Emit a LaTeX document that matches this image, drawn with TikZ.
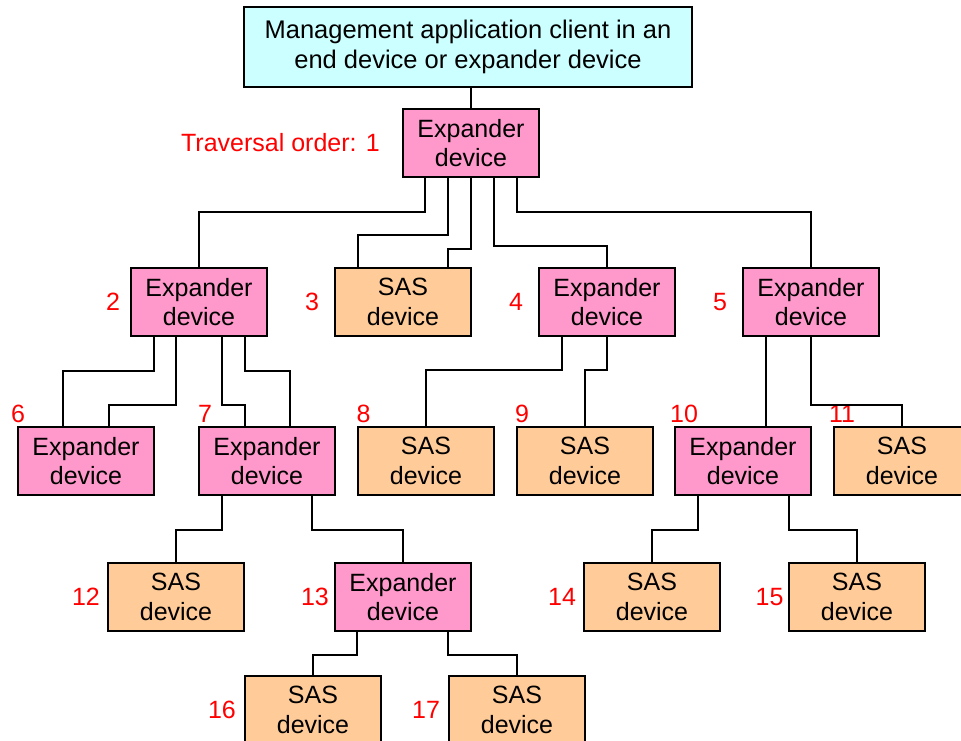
\documentclass[tikz,border=0pt]{standalone}
\usepackage{fontspec}
\setmainfont{Liberation Sans}
\usetikzlibrary{calc}
\definecolor{topcyan}{HTML}{CCFFFF}
\definecolor{exppink}{HTML}{FF99CC}
\definecolor{saspeach}{HTML}{FFCC99}
\begin{document}
\begin{tikzpicture}[x=1pt,y=-1pt,
  every node/.style={font=\fontsize{25}{29.5}\selectfont},
  box/.style={draw=black,line width=1.7pt,minimum width=136pt,minimum height=68pt,inner sep=0pt,align=center},
  expbox/.style={box,fill=exppink},
  sasbox/.style={box,fill=saspeach},
  topbox/.style={box,fill=topcyan,minimum width=448pt,minimum height=80pt,font=\fontsize{25.5}{30}\selectfont},
  lbl/.style={text=red,inner sep=0pt},
  conn/.style={draw=black,line width=1.5pt}]
\useasboundingbox (0,0) rectangle (961,740);
\clip (0,0) rectangle (961,740);

% nodes
\node[topbox] (top) at (468,47) {Management application client in an\\end device or expander device};
\node[expbox] (e1) at (471,143) {Expander\\device};
\node[expbox] (e2) at (199,302) {Expander\\device};
\node[sasbox] (s3) at (403,302) {SAS\\device};
\node[expbox] (e4) at (607,302) {Expander\\device};
\node[expbox] (e5) at (811,302) {Expander\\device};
\node[expbox] (e6) at (86,461) {Expander\\device};
\node[expbox] (e7) at (267,461) {Expander\\device};
\node[sasbox] (s8) at (426,461) {SAS\\device};
\node[sasbox] (s9) at (585,461) {SAS\\device};
\node[expbox] (e10) at (743,461) {Expander\\device};
\node[sasbox] (s11) at (902,461) {SAS\\device};
\node[sasbox] (s12) at (176,597) {SAS\\device};
\node[expbox] (e13) at (403,597) {Expander\\device};
\node[sasbox] (s14) at (652,597) {SAS\\device};
\node[sasbox] (s15) at (857,597) {SAS\\device};
\node[sasbox] (s16) at (313,710) {SAS\\device};
\node[sasbox] (s17) at (517,710) {SAS\\device};

% labels
\node[lbl,anchor=east] (l1) at (380,143) {Traversal order: 1};
\node[lbl] (l2) at (113,302) {2};
\node[lbl] (l3) at (312,302) {3};
\node[lbl] (l4) at (516,302) {4};
\node[lbl] (l5) at (720,302) {5};
\node[lbl] (l6) at (18,414) {6};
\node[lbl] (l7) at (205,414) {7};
\node[lbl] (l8) at (363.5,414) {8};
\node[lbl] (l9) at (522,414) {9};
\node[lbl] (l10) at (684,414) {10};
\node[lbl] (l11) at (842,414) {11};
\node[lbl] (l12) at (86,597) {12};
\node[lbl] (l13) at (315,597) {13};
\node[lbl] (l14) at (562,597) {14};
\node[lbl] (l15) at (769.5,597) {15};
\node[lbl] (l16) at (222,710) {16};
\node[lbl] (l17) at (426,710) {17};

% connectors
\draw[conn] (e1.north) -- (e1.north |- top.south);
\draw[conn] ([xshift=-46pt]e1.south) -- ++(0,34) -| (e2.north);
\draw[conn] ([xshift=-23pt]e1.south) -- ++(0,57) -| ([xshift=-45pt]s3.north);
\draw[conn] (e1.south) -- ++(0,71) -| ([xshift=45pt]s3.north);
\draw[conn] ([xshift=23pt]e1.south) -- ++(0,68) -| (e4.north);
\draw[conn] ([xshift=46pt]e1.south) -- ++(0,34) -| (e5.north);

\draw[conn] ([xshift=-45pt]e2.south) -- ++(0,34) -| ([xshift=-23pt]e6.north);
\draw[conn] ([xshift=-23pt]e2.south) -- ++(0,68) -| ([xshift=23pt]e6.north);
\draw[conn] ([xshift=23pt]e2.south) -- ++(0,68) -| ([xshift=-22pt]e7.north);
\draw[conn] ([xshift=46pt]e2.south) -- ++(0,34) -| ([xshift=23pt]e7.north);

\draw[conn] ([xshift=-45pt]e4.south) -- ++(0,33) -| (s8.north);
\draw[conn] (e4.south) -- ++(0,33) -| (s9.north);

\draw[conn] ([xshift=-45pt]e5.south) -- ([xshift=23pt]e10.north);
\draw[conn] (e5.south) -- ++(0,68) -| (s11.north);

\draw[conn] ([xshift=-45pt]e7.south) -- ++(0,34) -| (s12.north);
\draw[conn] ([xshift=45pt]e7.south) -- ++(0,34) -| (e13.north);

\draw[conn] ([xshift=-45pt]e10.south) -- ++(0,34) -| (s14.north);
\draw[conn] ([xshift=46pt]e10.south) -- ++(0,34) -| (s15.north);

\draw[conn] ([xshift=-46pt]e13.south) -- ++(0,23) -| (s16.north);
\draw[conn] ([xshift=45pt]e13.south) -- ++(0,23) -| (s17.north);
\end{tikzpicture}
\end{document}
